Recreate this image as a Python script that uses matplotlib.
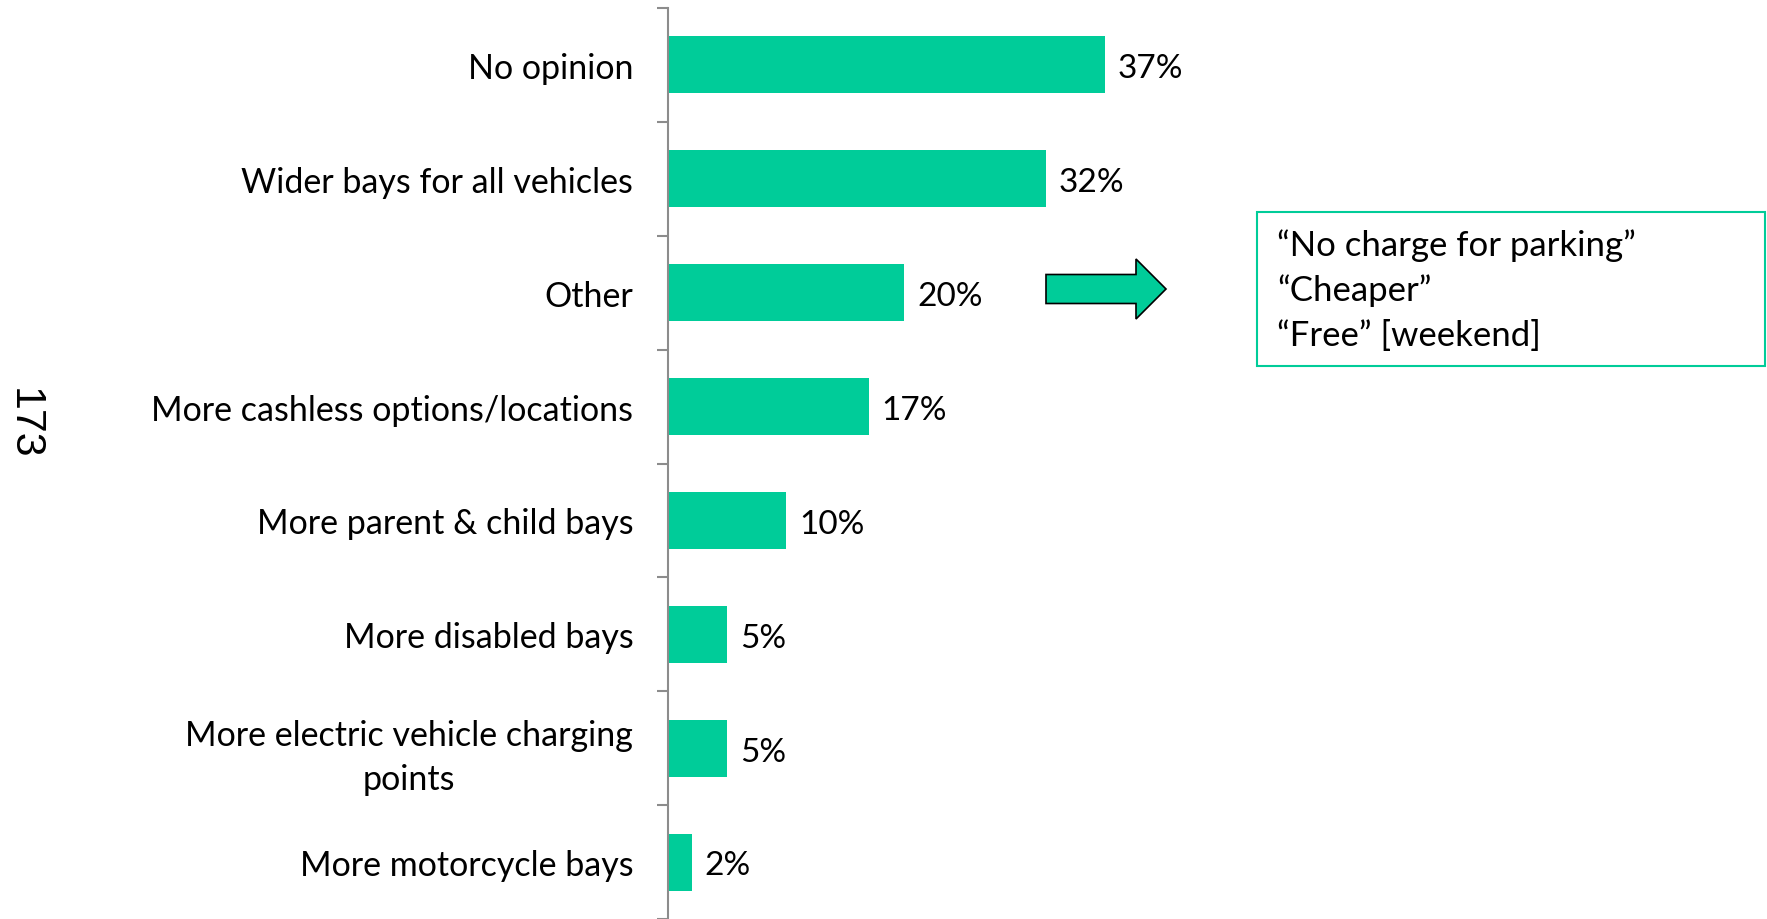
import matplotlib.pyplot as plt
from matplotlib.patches import FancyArrow, Rectangle

categories = ["No opinion", "Wider bays for all vehicles", "Other",
              "More cashless options/locations", "More parent & child bays",
              "More disabled bays", "More electric vehicle charging\npoints",
              "More motorcycle bays"]
values = [37, 32, 20, 17, 10, 5, 5, 2]
other_quotes = ["\u201cNo charge for parking\u201d", "\u201cCheaper\u201d",
                "\u201cFree\u201d [weekend]"]
base_label = "173"

GREEN = "#00CC99"
W, H = 1767, 920

plt.rcParams['font.family'] = ['Lato', 'DejaVu Sans']

fig = plt.figure(figsize=(W / 100, H / 100), dpi=100)
ax = fig.add_axes([668 / W, 0, (W - 668) / W, (H - 9) / H])

ypos = list(range(len(categories)))
ax.barh(ypos, values, height=0.5, color=GREEN, edgecolor='none')
ax.set_xlim(0, (W - 668) / 11.81)
ax.set_ylim(len(categories) - 0.5, -0.5)

for y, v in zip(ypos, values):
    ax.text(v + 1.1, y + 0.03, f"{v}%", va='center', ha='left', fontsize=24)

# category labels
ax.set_yticks(ypos)
ax.set_yticklabels(categories, fontsize=24.5, multialignment='center',
                   linespacing=1.45)
ax.set_yticks([i + 0.5 for i in range(-1, len(categories))], minor=True)
ax.tick_params(axis='y', which='major', length=0, pad=25)
ax.tick_params(axis='y', which='minor', length=8, width=1.5, color='#8c8c8c')
ax.tick_params(axis='x', bottom=False, labelbottom=False)
for s in ['top', 'right', 'bottom']:
    ax.spines[s].set_visible(False)
ax.spines['left'].set_color('#8c8c8c')
ax.spines['left'].set_linewidth(1.5)

fig.text(24 / W, 1 - 424 / H, base_label, rotation=270, ha='center', va='center',
         fontsize=31, family=['Liberation Sans', 'DejaVu Sans'])

# arrow pointing at the "Other" comments
fig.patches.append(FancyArrow(1046 / W, 1 - 290 / H, 120 / W, 0, width=29 / H,
                              head_width=60 / H, head_length=30 / W,
                              length_includes_head=True, facecolor=GREEN,
                              edgecolor='black', linewidth=1.2,
                              transform=fig.transFigure))
fig.patches.append(Rectangle((1257 / W, 1 - 367 / H), 508 / W, 154 / H,
                             facecolor='white', edgecolor=GREEN, linewidth=1.5,
                             transform=fig.transFigure))
for i, q in enumerate(other_quotes):
    fig.text(1277 / W, 1 - (246 + 45 * i) / H, q, ha='left', va='center', fontsize=25)

fig.savefig("out.png", dpi=100)
